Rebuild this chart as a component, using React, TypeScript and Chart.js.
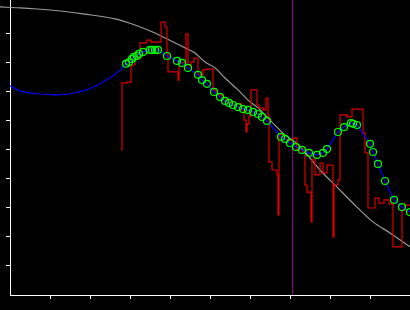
import React, { useEffect, useRef } from "react";
import { Chart, registerables } from "chart.js";

Chart.register(...registerables);

// Axis ranges and tick positions (tick marks only, no labels)
const X_MIN = 0;
const X_MAX = 10;
const Y_MIN = 0;
const Y_MAX = 10.17;
const X_TICKS = [1, 2, 3, 4, 5, 6, 7, 8, 9];
const Y_TICKS = [1, 2, 3, 4, 5, 6, 7, 8, 9];

// Gray model curve
const modelX = [-0.25, 0.25, 0.675, 1.25, 1.825, 2.625, 3.125, 3.625, 3.875, 4.375, 4.625, 4.875, 5.125, 5.375, 5.7, 5.95, 6.2, 6.5, 6.875, 7.125, 7.375, 7.75, 8.175, 8.675, 9.075, 9.5, 10];
const modelY = [9.93, 9.9, 9.86, 9.79, 9.69, 9.52, 9.31, 9.03, 8.86, 8.52, 8.34, 8.03, 7.83, 7.48, 7.07, 6.72, 6.45, 6.03, 5.52, 5.28, 4.93, 4.31, 3.72, 3.03, 2.52, 2.14, 1.66];

// Blue smooth lead-in (before the markers)
const leadX = [0, 0.25, 0.5, 0.75, 1.125, 1.5, 1.925, 2.25, 2.575, 2.75];
const leadY = [7.21, 7.03, 6.97, 6.93, 6.9, 6.93, 7.07, 7.28, 7.55, 7.76];

// Green markers (also joined by the blue line)
const markX = [2.9, 2.975, 3.05, 3.1, 3.175, 3.225, 3.325, 3.5, 3.55, 3.625, 3.7, 3.925, 4.175, 4.3, 4.45, 4.7, 4.8, 4.925, 5.1, 5.25, 5.375, 5.475, 5.575, 5.7, 5.825, 5.95, 6.075, 6.2, 6.3, 6.425, 6.775, 6.875, 7.0, 7.15, 7.3, 7.475, 7.675, 7.825, 7.925, 8.2, 8.35, 8.525, 8.575, 8.675, 9.0, 9.075, 9.2, 9.375, 9.6, 9.8, 10.0];
const markY = [7.97, 8.03, 8.14, 8.21, 8.24, 8.31, 8.38, 8.45, 8.45, 8.45, 8.45, 8.24, 8.07, 8.0, 7.83, 7.59, 7.41, 7.28, 7.0, 6.83, 6.69, 6.62, 6.55, 6.48, 6.41, 6.38, 6.31, 6.24, 6.14, 6.0, 5.45, 5.38, 5.24, 5.1, 5.0, 4.9, 4.83, 4.9, 5.03, 5.62, 5.79, 5.93, 5.9, 5.86, 5.21, 4.93, 4.52, 3.93, 3.28, 3.03, 2.86];

// Red stepped measurement
const measX = [2.775, 2.8, 2.925, 3.025, 3.125, 3.25, 3.425, 3.525, 3.775, 3.875, 3.925, 3.95, 4.2, 4.225, 4.4, 4.45, 4.525, 4.6, 4.7, 4.825, 4.9, 5.075, 5.15, 5.3, 5.425, 5.55, 5.675, 5.8, 5.85, 5.9, 5.925, 5.975, 6.025, 6.175, 6.225, 6.325, 6.4, 6.45, 6.475, 6.55, 6.675, 6.7, 6.725, 6.875, 7.075, 7.175, 7.3, 7.375, 7.425, 7.525, 7.55, 7.625, 7.75, 7.825, 7.925, 8.075, 8.1, 8.2, 8.25, 8.425, 8.55, 8.825, 8.875, 8.95, 9.125, 9.225, 9.35, 9.475, 9.575, 9.8, 9.875, 10];
const measY = [5.0, 7.31, 7.34, 7.93, 8.17, 8.69, 8.79, 8.72, 9.41, 9.24, 8.34, 7.69, 7.41, 8.0, 9.0, 7.93, 8.03, 8.17, 7.59, 7.76, 7.79, 7.07, 6.9, 6.72, 6.62, 6.55, 6.59, 6.38, 6.03, 5.62, 5.9, 6.17, 7.07, 6.55, 6.45, 6.38, 6.79, 6.21, 4.59, 4.31, 4.14, 2.76, 5.52, 5.34, 5.41, 5.0, 4.93, 3.79, 3.55, 2.52, 4.66, 4.14, 4.55, 4.21, 4.48, 2.0, 3.79, 3.97, 6.21, 6.14, 6.41, 5.59, 4.9, 3.0, 3.34, 3.17, 3.28, 3.14, 1.66, 2.93, 3.1, 3.1];

// Purple cursor position
const cursorX = 7.0625;

const pts = (xs: number[], ys: number[]) => xs.map((x, i) => ({ x, y: ys[i] }));

export default function App() {
  const ref = useRef<HTMLCanvasElement | null>(null);

  useEffect(() => {
    if (!ref.current) return;
    const tickColor = (list: number[]) => (ctx: any) => {
      const v = ctx && ctx.tick ? Math.round(ctx.tick.value * 1000) / 1000 : NaN;
      return list.includes(v) ? "#ffffff" : "rgba(0,0,0,0)";
    };
    const chart = new Chart(ref.current, {
      type: "scatter",
      data: {
        datasets: [
          {
            label: "markers",
            data: pts(markX, markY),
            showLine: false,
            pointRadius: 3.5,
            pointBorderWidth: 1.2,
            pointBorderColor: "#00ff00",
            pointBackgroundColor: "rgba(0,0,0,0)",
          },
          {
            label: "fit",
            data: [...pts(leadX, leadY), ...pts(markX, markY)],
            showLine: true,
            borderColor: "#0000ff",
            borderWidth: 1.2,
            pointRadius: 0,
            tension: 0,
          },
          {
            label: "measured",
            data: pts(measX, measY),
            showLine: true,
            stepped: true,
            borderColor: "#dd0000",
            borderWidth: 1.2,
            pointRadius: 0,
          },
          {
            label: "cursor",
            data: [
              { x: cursorX, y: Y_MIN },
              { x: cursorX, y: Y_MAX },
            ],
            showLine: true,
            borderColor: "#8a008a",
            borderWidth: 1,
            pointRadius: 0,
          },
          {
            label: "model",
            data: pts(modelX, modelY),
            showLine: true,
            borderColor: "#9a9a9a",
            borderWidth: 1.2,
            pointRadius: 0,
            cubicInterpolationMode: "monotone",
            clip: false as any,
          },
        ],
      },
      options: {
        responsive: false,
        animation: false,
        devicePixelRatio: 1,
        layout: { autoPadding: false, padding: { left: 6, right: 0, top: 0, bottom: 11 } },
        plugins: { legend: { display: false }, tooltip: { enabled: false } },
        events: [],
        scales: {
          x: {
            type: "linear",
            min: X_MIN,
            max: X_MAX,
            ticks: { display: false, stepSize: 1 },
            grid: {
              drawOnChartArea: false,
              drawTicks: true,
              tickLength: 4,
              color: tickColor(X_TICKS),
              tickColor: tickColor(X_TICKS),
              lineWidth: 1,
            },
            border: { display: true, color: "#ffffff", width: 1 },
          },
          y: {
            type: "linear",
            min: Y_MIN,
            max: Y_MAX,
            ticks: { display: false, stepSize: 1 },
            grid: {
              drawOnChartArea: false,
              drawTicks: true,
              tickLength: 4,
              color: tickColor(Y_TICKS),
              tickColor: tickColor(Y_TICKS),
              lineWidth: 1,
            },
            border: { display: true, color: "#ffffff", width: 1 },
          },
        },
      },
    });
    return () => chart.destroy();
  }, []);

  return (
    <div style={{ position: "fixed", left: 0, top: 0, width: 410, height: 310, background: "#000" }}>
      <canvas ref={ref} width={410} height={310} style={{ display: "block", width: 410, height: 310 }} />
    </div>
  );
}
